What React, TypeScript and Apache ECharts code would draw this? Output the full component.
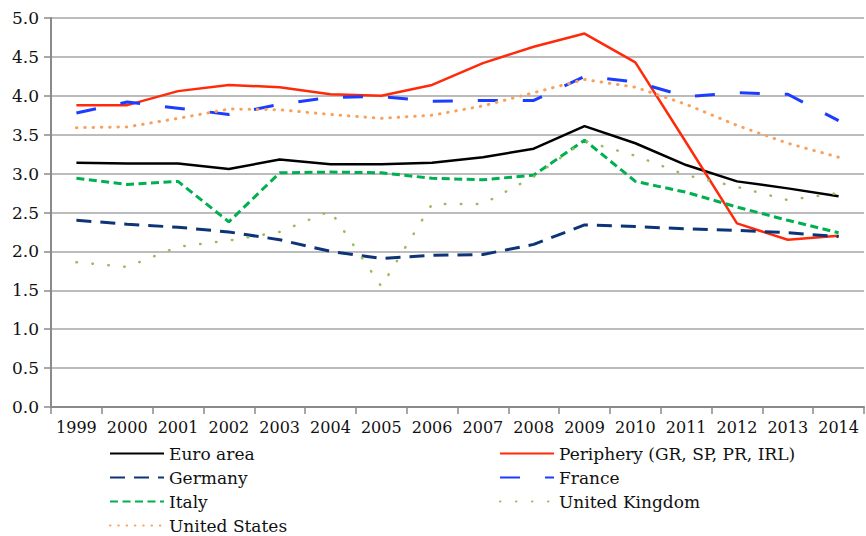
import React, { useEffect, useRef } from "react";
import * as echarts from "echarts";

const years = ["1999","2000","2001","2002","2003","2004","2005","2006","2007","2008","2009","2010","2011","2012","2013","2014"];
const euroArea = [3.14,3.13,3.13,3.06,3.18,3.12,3.12,3.14,3.21,3.32,3.61,3.39,3.11,2.90,2.81,2.71];
const periphery = [3.88,3.88,4.06,4.14,4.11,4.02,4.00,4.14,4.42,4.63,4.80,4.43,3.40,2.36,2.15,2.20];
const germany = [2.40,2.35,2.31,2.25,2.15,2.00,1.91,1.95,1.96,2.09,2.34,2.32,2.29,2.27,2.24,2.19];
const france = [3.78,3.92,3.84,3.76,3.89,3.98,3.99,3.93,3.94,3.94,4.25,4.18,3.99,4.04,4.02,3.68];
const italy = [2.94,2.86,2.90,2.38,3.01,3.02,3.01,2.94,2.92,2.98,3.43,2.90,2.76,2.57,2.40,2.24];
const unitedKingdom = [1.86,1.80,2.06,2.14,2.25,2.52,1.55,2.61,2.61,2.96,3.42,3.23,2.98,2.83,2.66,2.75];
const unitedStates = [3.59,3.60,3.71,3.83,3.82,3.76,3.71,3.75,3.87,4.04,4.21,4.11,3.89,3.62,3.39,3.21];

const legendLeft = ["Euro area", "Germany", "Italy", "United States"];
const legendRight = ["Periphery (GR, SP, PR, IRL)", "France", "United Kingdom"];

const FONT = "DejaVu Serif";

export default function App() {
  const ref = useRef<HTMLDivElement>(null);
  useEffect(() => {
    if (!ref.current) return;
    const chart = echarts.init(ref.current, undefined, { renderer: "svg" });
    const mk = (name: string, data: number[], color: string, width: number, type: any, cap: any = "butt") => ({
      name,
      type: "line",
      data,
      symbol: "none",
      lineStyle: { color, width, type, cap },
      itemStyle: { color },
      z: 3,
    });
    const legendBase = {
      orient: "vertical",
      top: 439,
      height: 110,
      itemWidth: 54,
      itemHeight: 14,
      itemGap: 5,
      itemStyle: { opacity: 0 },
      textStyle: { fontFamily: FONT, fontSize: 17, color: "#111", lineHeight: 19 },
    };
    chart.setOption({
      animation: false,
      backgroundColor: "#ffffff",
      textStyle: { fontFamily: FONT, fontSize: 16 },
      grid: { left: 51, right: 2, top: 18, bottom: 129, containLabel: false },
      xAxis: {
        type: "category",
        data: years,
        boundaryGap: true,
        axisLine: { lineStyle: { color: "#8a8a8a", width: 2 } },
        axisTick: { show: true, length: 7, lineStyle: { color: "#8a8a8a", width: 1.5 } },
        axisLabel: { color: "#111", fontSize: 16, fontFamily: FONT, margin: 12, interval: 0 },
        splitLine: { show: false },
      },
      yAxis: {
        type: "value",
        min: 0,
        max: 5,
        interval: 0.5,
        axisLine: { show: true, lineStyle: { color: "#8a8a8a", width: 2 } },
        axisTick: { show: true, length: 7, lineStyle: { color: "#8a8a8a", width: 1.5 } },
        axisLabel: { color: "#111", fontSize: 17, fontFamily: FONT, margin: 12, formatter: (v: number) => v.toFixed(1) },
        splitLine: { show: true, lineStyle: { color: "#a6a6a6", width: 1.5 } },
      },
      legend: [
        { ...legendBase, left: 104, data: legendLeft },
        { ...legendBase, left: 494, data: legendRight },
      ],
      series: [
        mk("Euro area", euroArea, "#000000", 2.5, "solid"),
        mk("Periphery (GR, SP, PR, IRL)", periphery, "#ff2a0a", 2.5, "solid"),
        mk("Germany", germany, "#0e3478", 3, [15, 9]),
        mk("France", france, "#1c3dff", 3, [20, 25]),
        mk("Italy", italy, "#00b050", 3, [8, 4.5]),
        mk("United Kingdom", unitedKingdom, "#9bbb59", 2.5, [0.5, 15.5], "round"),
        mk("United States", unitedStates, "#f9a05c", 3, [0.5, 7.8], "round"),
      ],
    });
    return () => chart.dispose();
  }, []);
  return (
    <div
      ref={ref}
      style={{
        width: 866,
        height: 536,
        position: "absolute",
        left: 0,
        top: 0,
        fontFamily: "'DejaVu Serif', serif",
      }}
    />
  );
}
